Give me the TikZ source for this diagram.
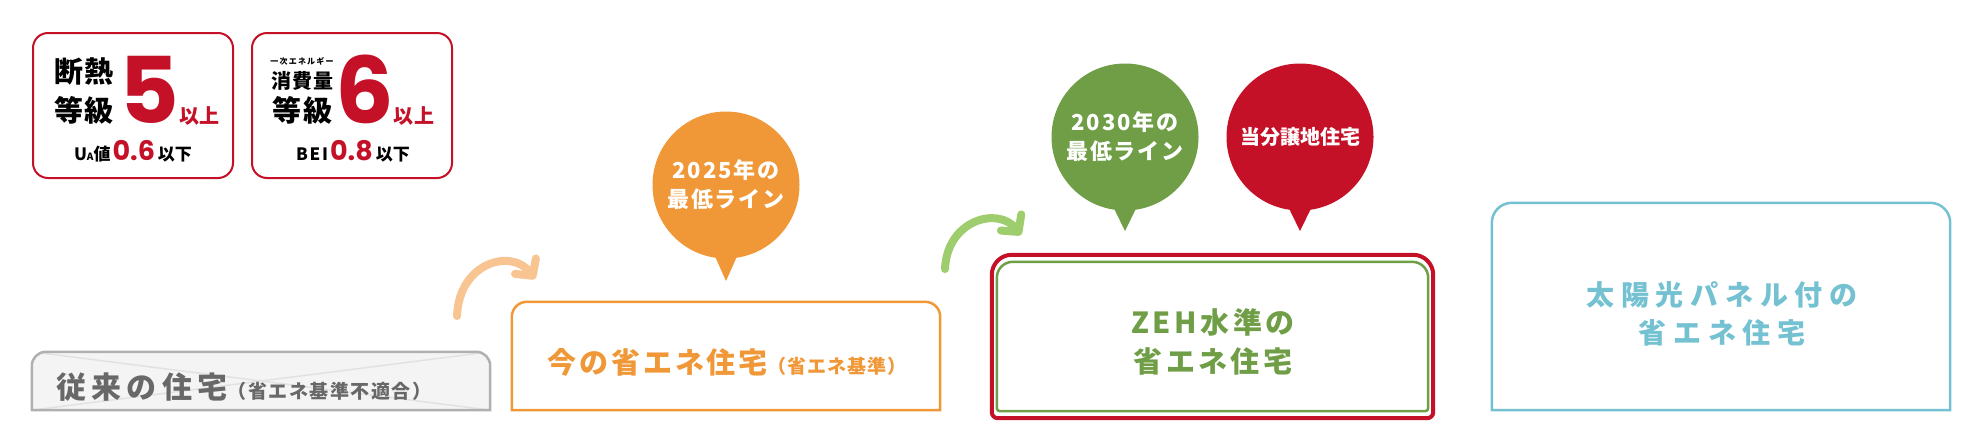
\documentclass[tikz,border=0pt]{standalone}
\usepackage{fontspec}
\setmainfont{Noto Sans CJK JP}
\newfontfamily\numfont{Poppins}
\usetikzlibrary{arrows.meta}

\definecolor{jred}{RGB}{197,17,40}
\definecolor{jorange}{RGB}{240,152,56}
\definecolor{jgreen}{RGB}{111,158,70}
\definecolor{jblue}{RGB}{116,193,210}
\definecolor{jgray}{RGB}{104,104,104}
\definecolor{oldline}{RGB}{176,176,176}
\definecolor{oldfill}{RGB}{244,244,244}
\definecolor{oldcross}{RGB}{226,226,226}
\definecolor{lightorange}{RGB}{247,196,146}
\definecolor{lightgreen}{RGB}{158,205,110}

\newcommand{\fs}[1]{\fontsize{#1}{#1}\selectfont}
% frame with rounded top corners only
\newcommand{\toppath}[2]{(#1.south) -- (#1.south east) -- (#1.east) [rounded corners=#2]
  -- (#1.north east) -- (#1.north west) -- (#1.west) [sharp corners] -- (#1.south west) -- cycle}
% frame with big top and small bottom corners
\newcommand{\bothpath}[3]{(#1.south) [rounded corners=#3] -- (#1.south east) -- (#1.east) [rounded corners=#2]
  -- (#1.north east) -- (#1.north west) -- (#1.west) [rounded corners=#3] -- (#1.south west) -- cycle}

\begin{document}
\begin{tikzpicture}[x=1pt, y=-1pt,
  box/.style={inner sep=0pt, draw=none},
  label/.style={inner sep=0pt, align=center},
  badge/.style={draw=jred, line width=2pt, rounded corners=15pt, minimum width=200pt, minimum height=145pt, inner sep=0pt},
  grade/.style={label, anchor=base west, text=jred},
  bubble/.style={circle, inner sep=0pt, minimum size=147pt, text=white, align=center,
    font=\bfseries\fontsize{22}{29}\selectfont\addfontfeatures{LetterSpace=8}},
  flowarrow/.style={line width=8pt, line cap=round, -{Straight Barb[length=12pt,width=26pt,round]}}]
	\tikzstyle{every node} = [inner sep=0pt]
	\useasboundingbox (0,0) rectangle (1980,440);

	% badges
	\node[badge] (heat) at (133,105.5) {};
	\node[label, font=\bfseries\fs{29}\addfontfeatures{LetterSpace=6}] (heatword) at (84,72) {断熱};
	\node[label, font=\bfseries\fs{29}\addfontfeatures{LetterSpace=6}] (heatgrade) at (84,110) {等級};
	\node[grade] (five) at (119,123.5) {{\numfont\bfseries\fs{92}5}{\bfseries\fs{20}\addfontfeatures{LetterSpace=5}以上}};
	\node[label, anchor=base] (ua) at (133,160)
	  {{\bfseries\fs{17}U{\fs{10}A}値}\hspace{2pt}{\numfont\bfseries\fs{27}\color{jred}0.6}\hspace{3pt}{\bfseries\fs{17}以下}};

	\node[badge] (energy) at (352,105.5) {};
	\node[label, font=\bfseries\fs{8}\addfontfeatures{LetterSpace=15}] (primary) at (302,61) {一次エネルギー};
	\node[label, font=\bfseries\fs{20}\addfontfeatures{LetterSpace=5}] (usage) at (302.5,81) {消費量};
	\node[label, font=\bfseries\fs{29}\addfontfeatures{LetterSpace=6}] (energygrade) at (302.5,110) {等級};
	\node[grade] (six) at (335,123.5) {{\numfont\bfseries\fs{92}6}{\bfseries\fs{20}\addfontfeatures{LetterSpace=5}以上}};
	\node[label, anchor=base] (bei) at (353,160)
	  {{\bfseries\fs{17}\addfontfeatures{LetterSpace=10}BEI}\hspace{2pt}{\numfont\bfseries\fs{27}\color{jred}0.8}\hspace{3pt}{\bfseries\fs{17}以下}};

	% old house
	\node[box, minimum width=458pt, minimum height=58pt] (old) at (261,381) {};
	\fill[oldfill] \toppath{old}{14pt};
	\begin{scope}
	\clip \toppath{old}{14pt};
	\draw[oldcross, line width=1.5pt] (old.south west) -- (old.north east) (old.north west) -- (old.south east);
	\end{scope}
	\draw[oldline, line width=2.5pt] \toppath{old}{14pt};
	\node[label, anchor=west, text=jgray, font=\bfseries\fs{30}\addfontfeatures{LetterSpace=18}] (oldlbl) at (56,387)
	  {従来の住宅{\fs{19}\addfontfeatures{LetterSpace=8}（省エネ基準不適合）}};

	% current standard
	\node[box, minimum width=428pt, minimum height=108pt] (now) at (726,356) {};
	\draw[jorange, line width=2.5pt] \toppath{now}{15pt};
	\node[label, text=jorange, font=\bfseries\fs{29}\addfontfeatures{LetterSpace=10}] (nowlbl) at (727,362)
	  {今の省エネ住宅{\fs{19}\addfontfeatures{LetterSpace=5}（省エネ基準）}};
	\node[bubble, fill=jorange] (b2025) at (726,185) {2025年の\\最低ライン};
	\coordinate (t2025) at (726,281);
	\fill[jorange] (b2025.-98) -- (t2025) -- (b2025.-82) -- cycle;

	% ZEH
	\node[box, minimum width=441pt, minimum height=163pt] (zeh) at (1212.5,336.5) {};
	\node[box, minimum width=431pt, minimum height=149pt] (zehin) at (1212.5,336.5) {};
	\draw[jred, line width=4pt] \bothpath{zeh}{20pt}{6pt};
	\draw[jgreen, line width=2.5pt] \bothpath{zehin}{16pt}{3pt};
	\node[label, text=jgreen, font=\bfseries\fontsize{29}{39}\selectfont\addfontfeatures{LetterSpace=12}] (zehlbl) at (1213,342)
	  {ZEH水準の\\省エネ住宅};
	\node[bubble, fill=jgreen] (b2030) at (1125,137) {2030年の\\最低ライン};
	\coordinate (t2030) at (1125,231);
	\fill[jgreen] (b2030.-98) -- (t2030) -- (b2030.-82) -- cycle;
	\node[bubble, fill=jred, font=\bfseries\fs{20}] (bsite) at (1300,137) {当分譲地住宅};
	\coordinate (tsite) at (1300,231);
	\fill[jred] (bsite.-98) -- (tsite) -- (bsite.-82) -- cycle;

	% solar
	\node[box, minimum width=458pt, minimum height=207pt] (solar) at (1721,306.5) {};
	\draw[jblue, line width=2.5pt] \toppath{solar}{20pt};
	\node[label, text=jblue, font=\bfseries\fontsize{28}{38}\selectfont\addfontfeatures{LetterSpace=24}] (solarlbl) at (1722,314)
	  {太陽光パネル付の\\省エネ住宅};

	% steps
	\coordinate (a1s) at (457,316);
	\coordinate (a1e) at (535,279);
	\draw[flowarrow, lightorange] (a1s) .. controls (459,262) and (512,248) .. (a1e);
	\coordinate (a2s) at (945,269);
	\coordinate (a2e) at (1021,235);
	\draw[flowarrow, lightgreen] (a2s) .. controls (947,220) and (998,206) .. (a2e);
\end{tikzpicture}
\end{document}
